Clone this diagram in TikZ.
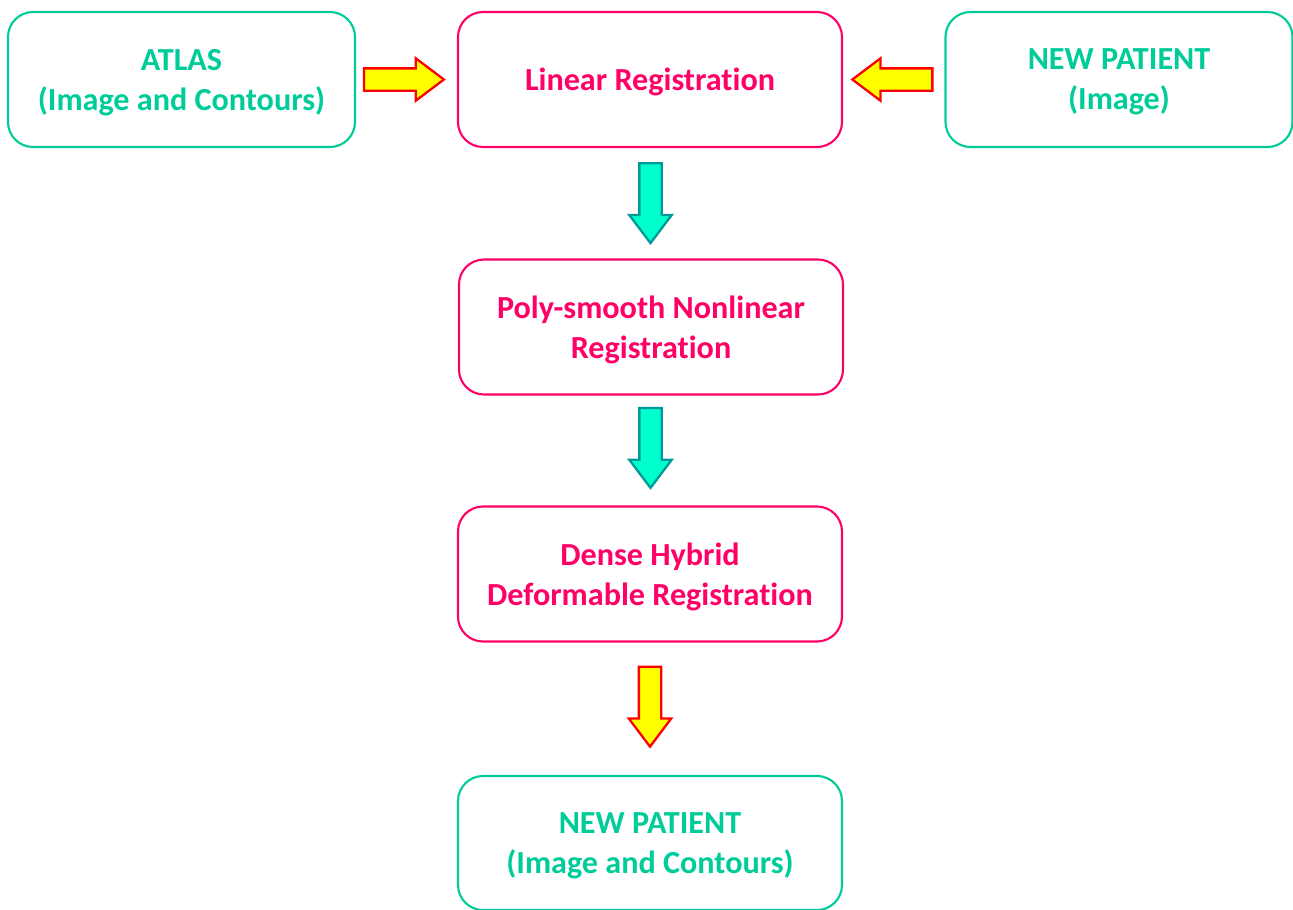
\documentclass[tikz,border=0pt]{standalone}
\usepackage{fontspec}
\setmainfont[RawFeature=-liga]{Carlito}
\usetikzlibrary{positioning, calc, shapes.arrows}
\definecolor{datagreen}{HTML}{00CC99}
\definecolor{steppink}{HTML}{FF0066}
\definecolor{arrcyan}{HTML}{00FFCC}
\definecolor{arrteal}{HTML}{009999}
\definecolor{arryellow}{HTML}{FFFF00}
\definecolor{arrred}{HTML}{FF0000}
\tikzset{
  box/.style = {rounded corners=0.5cm, line width=1.2pt, minimum height=2.7cm,
    align=center, text depth=-0.06cm, font=\bfseries\fontsize{18.3}{22.8}\selectfont},
  databox/.style = {box, draw=datagreen, text=datagreen, minimum width=6.94cm},
  stepbox/.style = {box, draw=steppink, text=steppink, minimum width=7.68cm},
  blockarrow/.style = {single arrow, minimum height=1.6cm, minimum width=0.8cm,
    inner sep=0.2cm, single arrow head extend=0.2cm, single arrow tip angle=74,
    line width=1.3pt},
  hotarrow/.style = {blockarrow, draw=arrred, fill=arryellow},
  coolarrow/.style = {blockarrow, draw=arrteal, fill=arrcyan}
}
\begin{document}
\begin{tikzpicture}
\useasboundingbox (0,0) rectangle (25.86,-18.18);
\node[databox] (atlas) at (3.63,-1.59) {ATLAS\\(Image and Contours)};
\node[stepbox] (linreg) at (13.0,-1.59) {Linear Registration};
\node[databox] (patient) at (22.38,-1.59) {NEW PATIENT\\(Image)};
\node[stepbox] (polyreg) at (13.02,-6.54) {Poly-smooth Nonlinear\\Registration};
\node[stepbox] (densereg) at (13.0,-11.48) {Dense Hybrid\\Deformable Registration};
\node[databox, minimum width=7.68cm, minimum height=2.68cm] (result) at (13.0,-16.86) {NEW PATIENT\\(Image and Contours)};
\node[hotarrow, xshift=-0.2cm] (a1) at ($(atlas.east)!0.5!(linreg.west)$) {};
\node[hotarrow, shape border rotate=180, xshift=0.12cm] (a2) at ($(patient.west)!0.5!(linreg.east)$) {};
\node[coolarrow, shape border rotate=270, yshift=0.15cm] (a3) at ($(linreg.south)!0.5!(polyreg.north)$) {};
\node[coolarrow, shape border rotate=270, yshift=0.2cm] (a4) at ($(polyreg.south)!0.5!(densereg.north)$) {};
\node[hotarrow, shape border rotate=270, yshift=0.19cm] (a5) at ($(densereg.south)!0.5!(result.north)$) {};
\end{tikzpicture}
\end{document}
